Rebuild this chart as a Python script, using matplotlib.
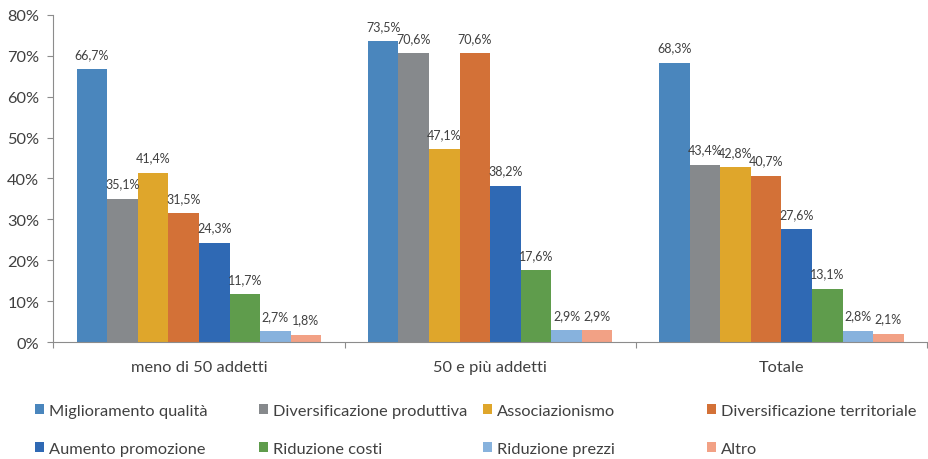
import matplotlib
matplotlib.use("Agg")
import matplotlib.pyplot as plt
import numpy as np
from matplotlib.patches import Patch

plt.rcParams["font.family"] = ["Lato", "DejaVu Sans"]

# data (percent)
groups = ["meno di 50 addetti", "50 e più addetti", "Totale"]
series = [
    "Miglioramento qualità",
    "Diversificazione produttiva",
    "Associazionismo",
    "Diversificazione territoriale",
    "Aumento promozione",
    "Riduzione costi",
    "Riduzione prezzi",
    "Altro",
]
values = [
    [66.7, 73.5, 68.3],
    [35.1, 70.6, 43.4],
    [41.4, 47.1, 42.8],
    [31.5, 70.6, 40.7],
    [24.3, 38.2, 27.6],
    [11.7, 17.6, 13.1],
    [2.7, 2.9, 2.8],
    [1.8, 2.9, 2.1],
]
colors = ["#4A86BD", "#86898C", "#DFA62B", "#D37137",
          "#2F69B4", "#5F9C4C", "#87B2DD", "#F2A185"]

axis_col = "#8C8C8C"
text_col = "#404040"

fig = plt.figure(figsize=(9.29, 4.60), dpi=100)
ax = fig.add_axes([0.0574, 0.2537, 0.9404, 0.7123])

x = np.arange(len(groups))
width = 0.105
n = len(series)
for i, (name, vals, col) in enumerate(zip(series, values, colors)):
    pos = x + (i - (n - 1) / 2) * width
    bars = ax.bar(pos, vals, width, color=col, label=name, linewidth=0)
    for b, v in zip(bars, vals):
        ax.annotate(f"{v:.1f}%".replace(".", ","),
                    (b.get_x() + b.get_width() / 2, v),
                    xytext=(0, 11), textcoords="offset points",
                    ha="center", va="center", fontsize=9, color=text_col)

ax.set_xlim(-0.5, len(groups) - 0.5)
ax.set_ylim(0, 80)
ax.set_yticks(range(0, 81, 10))
ax.set_yticklabels([f"{t}%" for t in range(0, 81, 10)])
ax.set_xticks(x)
ax.set_xticklabels(groups)
ax.set_xticks(np.arange(-0.5, len(groups), 1.0), minor=True)

ax.tick_params(axis="y", length=4, width=0.8, color=axis_col, pad=6,
               labelsize=11.8, labelcolor=text_col)
ax.tick_params(axis="x", which="major", length=0, pad=13,
               labelsize=11.8, labelcolor=text_col)
ax.tick_params(axis="x", which="minor", length=4, width=0.8, color=axis_col)

for s in ["top", "right"]:
    ax.spines[s].set_visible(False)
for s in ["left", "bottom"]:
    ax.spines[s].set_color(axis_col)
    ax.spines[s].set_linewidth(0.8)

# legend: four columns of two entries each
col_x = [35, 259, 483, 707]
for c in range(4):
    idx = [c, c + 4]
    handles = [Patch(facecolor=colors[k], edgecolor="none") for k in idx]
    fig.legend(handles, [series[k] for k in idx],
               loc="upper left", bbox_to_anchor=(col_x[c] / 929, 1 - 405 / 460),
               frameon=False, fontsize=11.8, labelcolor=text_col,
               handlelength=0.55, handleheight=0.55, handletextpad=0.3,
               labelspacing=1.45, borderpad=0, borderaxespad=0)

fig.savefig("out.png", dpi=100)
